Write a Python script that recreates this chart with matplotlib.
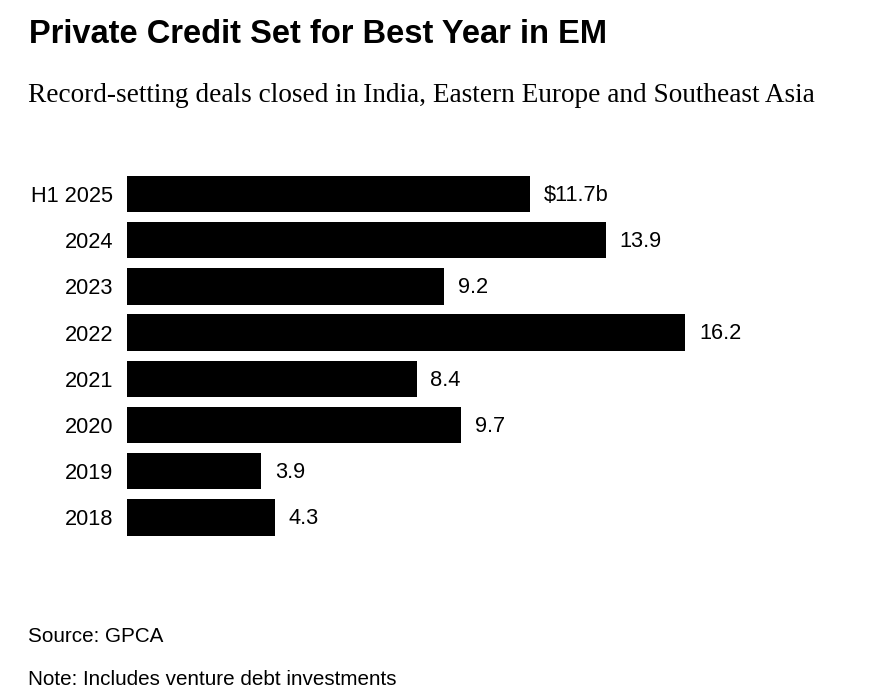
import matplotlib
matplotlib.use("Agg")
import matplotlib.pyplot as plt

categories = ["H1 2025", "2024", "2023", "2022", "2021", "2020", "2019", "2018"]
values = [11.7, 13.9, 9.2, 16.2, 8.4, 9.7, 3.9, 4.3]
value_labels = ["\\$11.7b", "13.9", "9.2", "16.2", "8.4", "9.7", "3.9", "4.3"]

title = "Private Credit Set for Best Year in EM"
subtitle = "Record-setting deals closed in India, Eastern Europe and Southeast Asia"
source = "Source: GPCA"
note = "Note: Includes venture debt investments"

W, H = 880, 698
fig = plt.figure(figsize=(W / 100, H / 100), dpi=100)
fig.patch.set_facecolor("white")

sans = "Liberation Sans"
serif = "Liberation Serif"

# axes placement (pixels)
left_px = 127
scale = 34.47  # px per unit
xmax = 20
top_px = 194 - 23.1
bot_px = 194 + 7.5 * 46.2
ax = fig.add_axes([left_px / W, 1 - bot_px / H, xmax * scale / W, (bot_px - top_px) / H])

ypos = list(range(len(categories)))
ax.barh(ypos, values, height=0.79, color="black", edgecolor="none")
ax.set_xlim(0, xmax)
ax.set_ylim(len(categories) - 0.5, -0.5)
ax.set_yticks(ypos)
ax.set_yticklabels(categories, fontsize=15.7, family=sans, color="black")
ax.tick_params(axis="y", length=0, pad=10)
ax.set_xticks([])
for s in ax.spines.values():
    s.set_visible(False)

for y, v, lab in zip(ypos, values, value_labels):
    ax.annotate(lab, (v, y), xytext=(9.7, 0.8), textcoords="offset points",
                ha="left", va="center_baseline", fontsize=15.7, family=sans, color="black")

fig.text(29 / W, 1 - 43.3 / H, title, fontsize=23.5, fontweight="bold", family=sans,
         ha="left", va="baseline", color="black")
fig.text(28 / W, 1 - 102 / H, subtitle, fontsize=19.6, family=serif,
         ha="left", va="baseline", color="black")
fig.text(28 / W, 1 - 641.7 / H, source, fontsize=14.9, family=sans,
         ha="left", va="baseline", color="black")
fig.text(28 / W, 1 - 685 / H, note, fontsize=14.9, family=sans,
         ha="left", va="baseline", color="black")

fig.savefig("out.png", dpi=100, facecolor="white")
